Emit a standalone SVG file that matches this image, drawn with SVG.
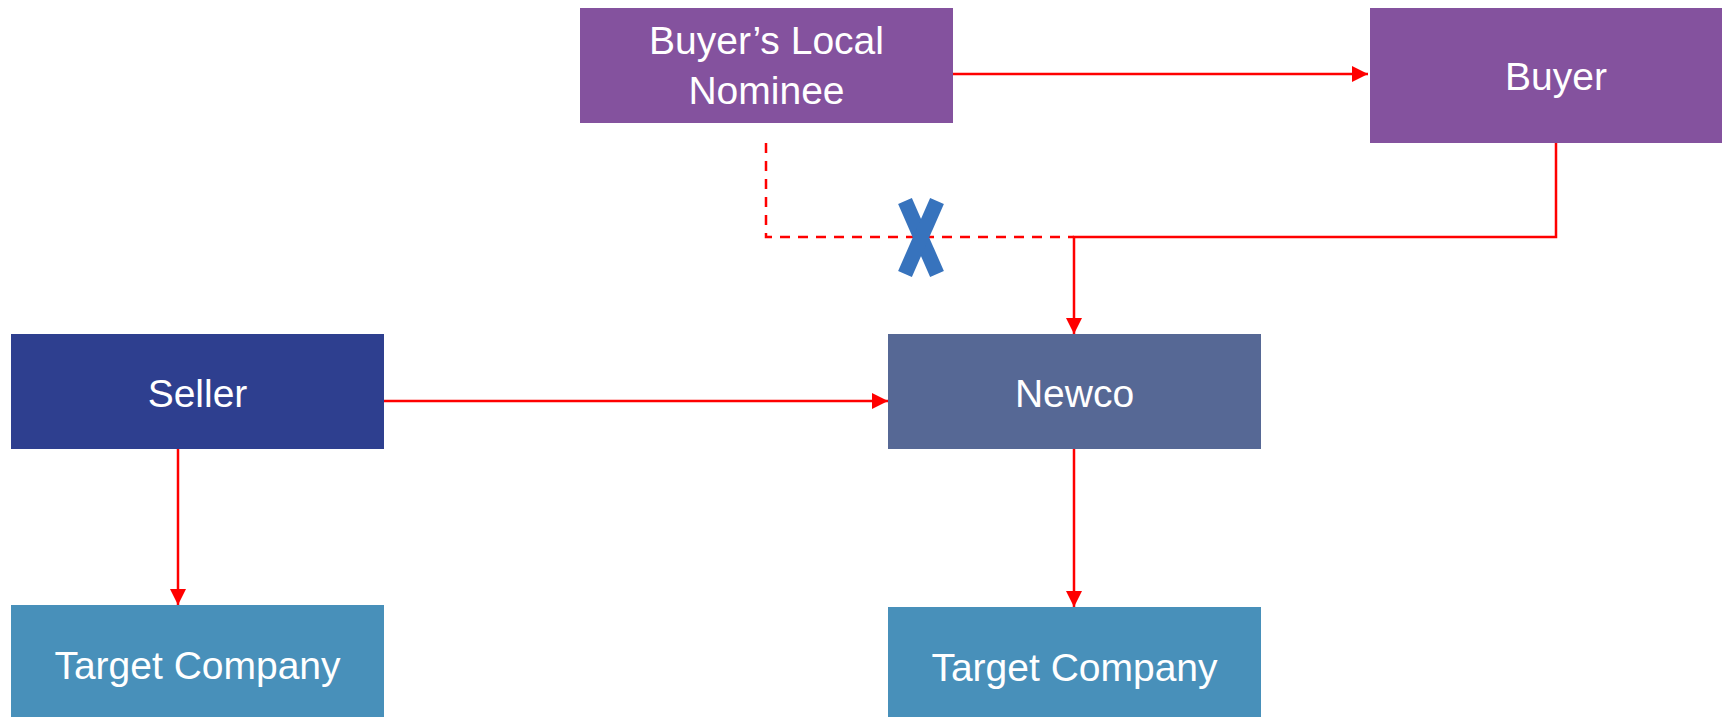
<svg xmlns="http://www.w3.org/2000/svg" width="1722" height="717" viewBox="0 0 1722 717">
  <style>
    .lbl { font-family: "Liberation Sans", Arial, sans-serif; font-size: 39px; fill: #ffffff; text-anchor: middle; }
    .conn { fill: none; stroke: #ff0000; stroke-width: 2.5; }
    .dash { stroke-dasharray: 10 8; }
    .purple { fill: #84529E; }
    .seller { fill: #2E3F8F; }
    .newco { fill: #566895; }
    .target { fill: #4890BA; }
  </style>
  <defs>
    <marker id="arrow" markerUnits="userSpaceOnUse" markerWidth="16" markerHeight="16" refX="16" refY="8" orient="auto">
      <path d="M0,0 L16,8 L0,16 z" fill="#ff0000"/>
    </marker>
  </defs>
  <rect width="1722" height="717" fill="#ffffff"/>

  <g id="connectors">
    <line class="conn" x1="953" y1="74" x2="1368" y2="74" marker-end="url(#arrow)"/>
    <path class="conn dash" d="M766,143 V237 H1074"/>
    <path class="conn" d="M1556,143 V237 H1074 V334" marker-end="url(#arrow)"/>
    <line class="conn" x1="384" y1="401" x2="888" y2="401" marker-end="url(#arrow)"/>
    <line class="conn" x1="178" y1="449" x2="178" y2="605" marker-end="url(#arrow)"/>
    <line class="conn" x1="1074" y1="449" x2="1074" y2="607" marker-end="url(#arrow)"/>
  </g>

  <g id="blocked-mark">
    <line x1="905" y1="201" x2="937" y2="274" stroke="#3773BD" stroke-width="15"/>
    <line x1="937" y1="201" x2="905" y2="274" stroke="#3773BD" stroke-width="15"/>
  </g>

  <g id="node-nominee">
    <rect class="purple" x="580" y="8" width="373" height="115"/>
    <text class="lbl" x="766.5" y="54">Buyer’s Local</text>
    <text class="lbl" x="766.5" y="104">Nominee</text>
  </g>
  <g id="node-buyer">
    <rect class="purple" x="1370" y="8" width="372" height="135"/>
    <text class="lbl" x="1556" y="90">Buyer</text>
  </g>
  <g id="node-seller">
    <rect class="seller" x="11" y="334" width="373" height="115"/>
    <text class="lbl" x="197.5" y="407">Seller</text>
  </g>
  <g id="node-newco">
    <rect class="newco" x="888" y="334" width="373" height="115"/>
    <text class="lbl" x="1074.5" y="407">Newco</text>
  </g>
  <g id="node-target-left">
    <rect class="target" x="11" y="605" width="373" height="112"/>
    <text class="lbl" x="197.5" y="679">Target Company</text>
  </g>
  <g id="node-target-right">
    <rect class="target" x="888" y="607" width="373" height="110"/>
    <text class="lbl" x="1074.5" y="681">Target Company</text>
  </g>
</svg>
